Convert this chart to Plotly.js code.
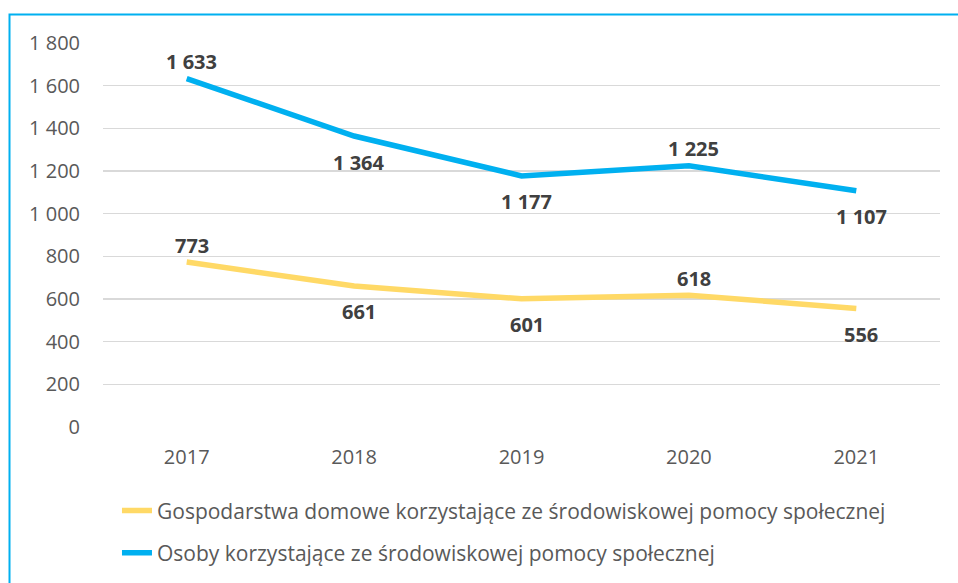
<!DOCTYPE html>
<html><head><meta charset="utf-8">
<script src="https://cdn.plot.ly/plotly-3.0.1.min.js"></script>
<style>html,body{margin:0;padding:0;background:#fff}#c{width:958px;height:583px}</style>
</head><body><div id="c"></div>
<script>
const years = ['2017','2018','2019','2020','2021'];
const households = [773, 661, 601, 618, 556];
const persons = [1633, 1364, 1177, 1225, 1107];
const householdsSide = ['above','below','below','above','below'];
const personsSide = ['above','below','below','above','below'];
const names = ['Gospodarstwa domowe korzystające ze środowiskowej pomocy społecznej','Osoby korzystające ze środowiskowej pomocy społecznej'];
const fmt = v => String(v).replace(/\B(?=(\d{3})+(?!\d))/g, '\u00a0');
const F = '"Open Sans", sans-serif';
const traces = [
 {x: years, y: households, name: names[0], legendgroup:'a', type:'scatter', mode:'lines',
  line:{color:'#FFD966', width:5.5}, cliponaxis:false},
 {x: years, y: persons, name: names[1], legendgroup:'b', type:'scatter', mode:'lines',
  line:{color:'#00B0F0', width:5.5}, cliponaxis:false}
];
const annotations = [];
function addLabels(vals, sides){
  vals.forEach((v,i)=>{
    annotations.push({x: i, y: v, xref:'x', yref:'y', text: fmt(v), showarrow:false,
      xshift: 5, yshift: sides[i]==='above' ? 17 : -26,
      font:{family:F, size:20, color:'#404040', weight:'bold'}});
  });
}
addLabels(households, householdsSide);
addLabels(persons, personsSide);
const layout = {
 width:958, height:583, margin:{l:103, r:18, t:43, b:156, autoexpand:false},
 paper_bgcolor:'#fff', plot_bgcolor:'#fff',
 font:{family:F, color:'#595959', size:20},
 xaxis:{type:'category', range:[-0.5,4.5], showgrid:false, zeroline:false, showline:false,
   ticks:'', tickfont:{size:20, color:'#595959'}, ticklabelstandoff:16},
 yaxis:{range:[0,1800], dtick:200, tick0:0, showgrid:true, gridcolor:'#D9D9D9', gridwidth:1.5,
   zeroline:false, showline:false, ticks:'', tickfont:{size:20, color:'#595959'},
   tickformat:',d', ticklabelstandoff:22},
 separators:'. ',
 showlegend:true,
 legend:{orientation:'v', x:0.0167, xanchor:'left', y:-0.165, yanchor:'top', traceorder:'grouped',
   font:{size:21, color:'#595959'}, tracegroupgap:12, bgcolor:'rgba(0,0,0,0)'},
 annotations: annotations,
 shapes:[{type:'rect', xref:'paper', yref:'paper', x0:-0.1117, x1:1.2, y0:-0.6, y1:1.0742,
   line:{color:'#00B0F0', width:2}, fillcolor:'rgba(0,0,0,0)', layer:'below'}]
};
Plotly.newPlot('c', traces, layout, {displayModeBar:false, staticPlot:true});
</script></body></html>
